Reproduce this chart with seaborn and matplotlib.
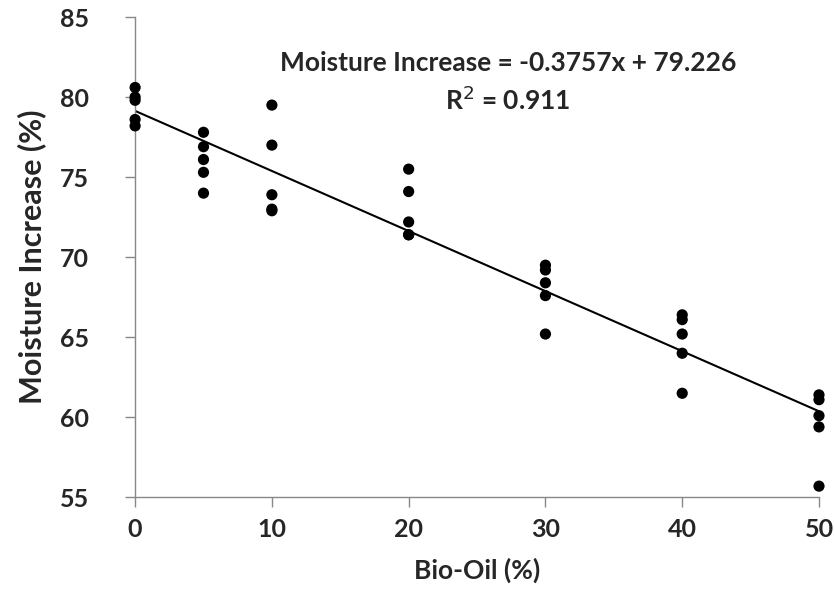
import matplotlib
matplotlib.use("Agg")
import matplotlib.pyplot as plt
import seaborn as sns
import pandas as pd

# Data
bio_oil = [0]*5 + [5]*5 + [10]*5 + [20]*5 + [30]*5 + [40]*5 + [50]*5
moisture = [80.6, 80.0, 79.8, 78.6, 78.2,
            77.8, 76.9, 76.1, 75.3, 74.0,
            79.5, 77.0, 73.9, 73.0, 72.9,
            75.5, 74.1, 72.2, 71.4, 71.4,
            69.5, 69.2, 68.4, 67.6, 65.2,
            66.4, 66.1, 65.2, 64.0, 61.5,
            61.4, 61.1, 60.1, 59.4, 55.7]
x_ticks = [0, 10, 20, 30, 40, 50]
y_ticks = [55, 60, 65, 70, 75, 80, 85]
equation = "Moisture Increase = -0.3757x + 79.226"
r2_text = "R$^2$ = 0.911"

df = pd.DataFrame({"Bio-Oil (%)": bio_oil, "Moisture Increase (%)": moisture})

sns.set_style("white")
plt.rcParams['font.family'] = ['Lato', 'DejaVu Sans']

fig, ax = plt.subplots(figsize=(8.34, 6.08), dpi=100)
fig.subplots_adjust(left=0.162, right=0.982, top=0.972, bottom=0.182)

sns.regplot(data=df, x="Bio-Oil (%)", y="Moisture Increase (%)", ax=ax, ci=None,
            truncate=True,
            scatter_kws=dict(s=65, color="black", edgecolor="none", alpha=1, zorder=3),
            line_kws=dict(color="black", lw=1.5, zorder=2))

ax.set_xlim(0, 50)
ax.set_ylim(55, 85)
ax.set_xticks(x_ticks)
ax.set_yticks(y_ticks)
ax.set_xticklabels([str(t) for t in x_ticks], fontsize=18, fontweight="bold")
ax.set_yticklabels([str(t) for t in y_ticks], fontsize=18, fontweight="bold")
ax.set_xlabel("Bio-Oil (%)", fontsize=19, fontweight="bold", labelpad=12)
ax.set_ylabel("Moisture Increase (%)", fontsize=22, fontweight="bold", labelpad=10)

for side in ["top", "right"]:
    ax.spines[side].set_visible(False)
for side in ["left", "bottom"]:
    ax.spines[side].set_color("#888888")
    ax.spines[side].set_linewidth(1.0)
ax.tick_params(axis="both", which="major", direction="out", length=7, width=1,
               color="#888888", bottom=True, left=True)
ax.tick_params(axis="x", pad=8)
ax.tick_params(axis="y", pad=26)
for coll in ax.collections:
    coll.set_clip_on(False)

ax.text(0.545, 0.905, equation, transform=ax.transAxes, ha="center", va="center",
        fontsize=19, fontweight="bold")
ax.text(0.545, 0.828, r2_text, transform=ax.transAxes, ha="center", va="center",
        fontsize=19, fontweight="bold")

fig.savefig("out.png", dpi=100)
